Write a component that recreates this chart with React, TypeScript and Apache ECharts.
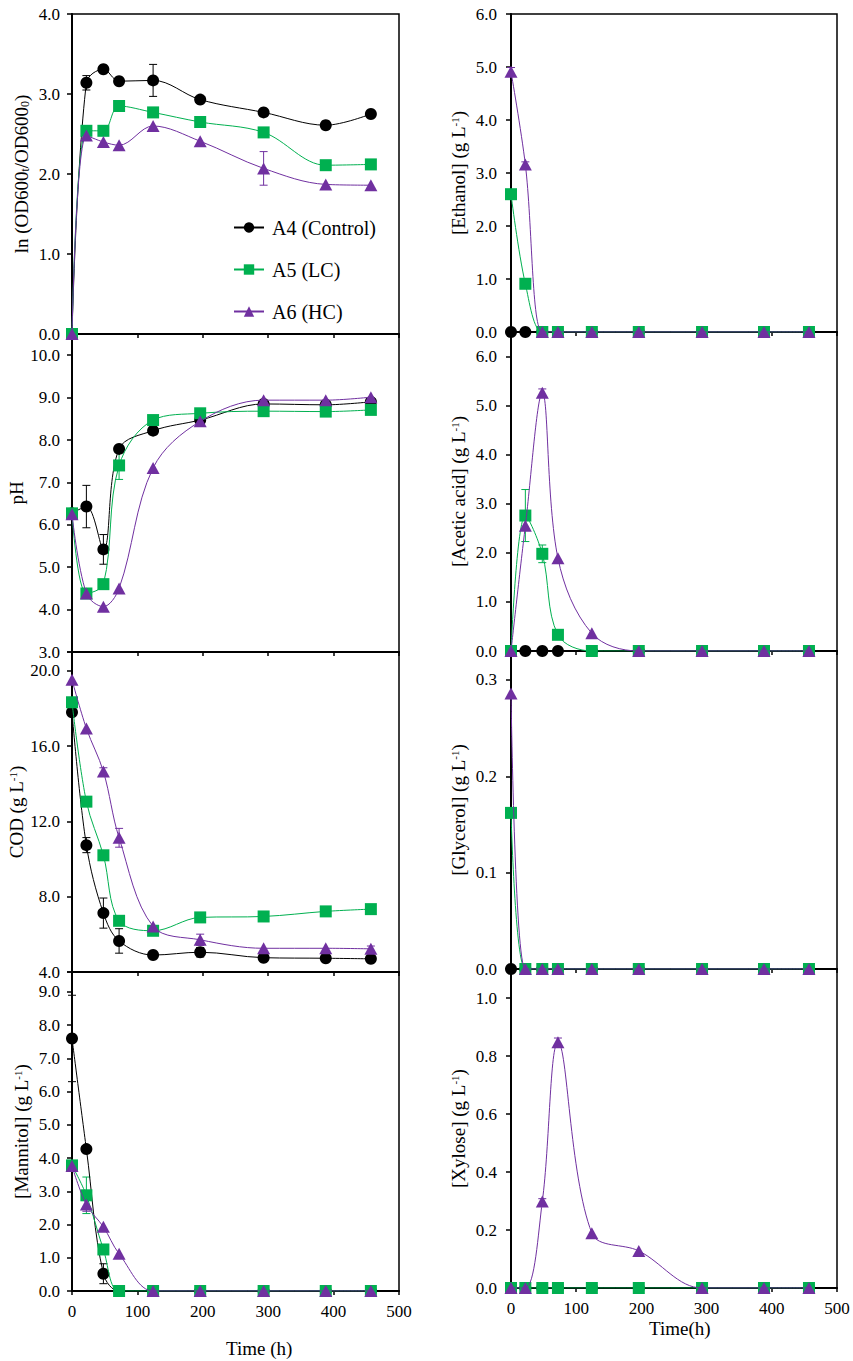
import React, { useEffect, useRef } from 'react';
import * as echarts from 'echarts';

// ---------- data ----------
const times = [0, 22, 48, 72, 124, 196, 293, 388, 457];
const seriesNames = ['A4 (Control)', 'A5 (LC)', 'A6 (HC)'];
const zeros = [0, 0, 0, 0, 0, 0, 0, 0, 0];

// ln(OD600t/OD600o)
const lnA4 = [0, 3.14, 3.31, 3.16, 3.17, 2.93, 2.77, 2.61, 2.75];
const lnA5 = [0, 2.54, 2.54, 2.85, 2.77, 2.65, 2.52, 2.11, 2.12];
const lnA6 = [0, 2.48, 2.4, 2.36, 2.6, 2.41, 2.07, 1.87, 1.86];
const lnSdA4 = [0, 0.09, 0, 0, 0.2, 0, 0, 0.05, 0];
const lnSdA6 = [0, 0, 0, 0, 0, 0, 0.21, 0, 0];

// pH
const phA4 = [6.27, 6.43, 5.42, 7.79, 8.22, 8.47, 8.85, 8.83, 8.9];
const phA5 = [6.27, 4.38, 4.6, 7.4, 8.47, 8.63, 8.68, 8.67, 8.71];
const phA6 = [6.25, 4.38, 4.07, 4.5, 7.34, 8.44, 8.94, 8.94, 9.01];
const phSdA4 = [0, 0.5, 0.35, 0, 0.08, 0, 0, 0, 0];
const phSdA5 = [0, 0, 0, 0.33, 0, 0, 0, 0, 0];

// COD
const codA4 = [17.8, 10.74, 7.13, 5.65, 4.9, 5.05, 4.76, 4.73, 4.7];
const codA5 = [18.33, 13.05, 10.2, 6.72, 6.19, 6.9, 6.95, 7.22, 7.34];
const codA6 = [19.52, 16.94, 14.65, 11.13, 6.42, 5.71, 5.26, 5.26, 5.23];
const codSdA4 = [0, 0.4, 0.8, 0.65, 0, 0.25, 0, 0, 0];
const codSdA6 = [0, 0, 0.2, 0.5, 0, 0.3, 0, 0, 0.15];

// Mannitol
const manA4 = [7.6, 4.27, 0.52, 0, 0, 0, 0, 0, 0];
const manA5 = [3.78, 2.88, 1.25, 0, 0, 0, 0, 0, 0];
const manA6 = [3.76, 2.6, 1.93, 1.12, 0, 0, 0, 0, 0];
const manSdA4 = [1.3, 0, 0.3, 0, 0, 0, 0, 0, 0];
const manSdA5 = [0, 0.55, 0, 0, 0, 0, 0, 0, 0];
const manSdA6 = [0, 0.2, 0, 0, 0, 0, 0, 0, 0];

// Ethanol
const ethA4 = [0, 0, 0, 0, 0, 0, 0, 0, 0];
const ethA5 = [2.6, 0.91, 0, 0, 0, 0, 0, 0, 0];
const ethA6 = [4.91, 3.16, 0, 0, 0, 0, 0, 0, 0];
const ethSdA6 = [0.08, 0.05, 0, 0, 0, 0, 0, 0, 0];

// Acetic acid
const aceA4 = [0, 0, 0, 0, 0, 0, 0, 0, 0];
const aceA5 = [0, 2.76, 1.98, 0.33, 0, 0, 0, 0, 0];
const aceA6 = [0, 2.55, 5.26, 1.89, 0.36, 0, 0, 0, 0];
const aceSdA5 = [0, 0.53, 0.18, 0.05, 0, 0, 0, 0, 0];
const aceSdA6 = [0, 0, 0.08, 0, 0, 0, 0, 0, 0];

// Glycerol
const glyA4 = [0, 0, 0, 0, 0, 0, 0, 0, 0];
const glyA5 = [0.162, 0, 0, 0, 0, 0, 0, 0, 0];
const glyA6 = [0.286, 0, 0, 0, 0, 0, 0, 0, 0];

// Xylose
const xylA4 = [0, 0, 0, 0, 0, 0, 0, 0, 0];
const xylA5 = [0, 0, 0, 0, 0, 0, 0, 0, 0];
const xylA6 = [0, 0, 0.298, 0.847, 0.189, 0.128, 0, 0, 0];
const xylSdA6 = [0, 0, 0.01, 0.015, 0, 0, 0, 0, 0];

// ---------- style ----------
const FONT = 'Liberation Serif';
const colors = ['#000000', '#00B050', '#7030A0'];
const symbols = ['circle', 'rect', 'triangle'];
const symbolSizes: any[] = [12, 12, [13, 12]];

const rich = {
  a: { fontFamily: FONT, fontSize: 19, color: '#000' },
  sup: { fontFamily: FONT, fontSize: 11, color: '#000', verticalAlign: 'top' },
  sub: { fontFamily: FONT, fontSize: 12, color: '#000', verticalAlign: 'bottom' },
};

const gl = '{a|(g L}{sup|-1}{a|)}';

const panels = [
  {
    box: { left: 72, top: 14, width: 327, height: 320 }, min: 0, max: 4, interval: 1,
    name: '{a|ln (OD600}{sub|t}{a|/OD600}{sub|0}{a|)}', gap: 41,
    data: [lnA4, lnA5, lnA6], sd: [lnSdA4, zeros, lnSdA6], bottom: false,
  },
  {
    box: { left: 72, top: 334, width: 327, height: 318 }, min: 3, max: 10.5, interval: 1,
    name: '{a|pH}', gap: 41,
    data: [phA4, phA5, phA6], sd: [phSdA4, phSdA5, zeros], bottom: false,
  },
  {
    box: { left: 72, top: 652, width: 327, height: 320 }, min: 4, max: 21, interval: 4,
    name: '{a|COD }' + gl, gap: 41,
    data: [codA4, codA5, codA6], sd: [codSdA4, zeros, codSdA6], bottom: false,
  },
  {
    box: { left: 72, top: 972, width: 327, height: 319 }, min: 0, max: 9.6, interval: 1,
    name: '{a|[Mannitol] }' + gl, gap: 41,
    data: [manA4, manA5, manA6], sd: [manSdA4, manSdA5, manSdA6], bottom: true,
  },
  {
    box: { left: 511, top: 14, width: 326, height: 318 }, min: 0, max: 6, interval: 1,
    name: '{a|[Ethanol] }' + gl, gap: 43,
    data: [ethA4, ethA5, ethA6], sd: [zeros, zeros, ethSdA6], bottom: false,
  },
  {
    box: { left: 511, top: 332, width: 326, height: 319 }, min: 0, max: 6.5, interval: 1,
    name: '{a|[Acetic acid] }' + gl, gap: 43,
    data: [aceA4, aceA5, aceA6], sd: [zeros, aceSdA5, aceSdA6], bottom: false,
  },
  {
    box: { left: 511, top: 651, width: 326, height: 318 }, min: 0, max: 0.33, interval: 0.1,
    name: '{a|[Glycerol] }' + gl, gap: 43,
    data: [glyA4, glyA5, glyA6], sd: [zeros, zeros, zeros], bottom: false,
  },
  {
    box: { left: 511, top: 969, width: 326, height: 319 }, min: 0, max: 1.1, interval: 0.2,
    name: '{a|[Xylose] }' + gl, gap: 43,
    data: [xylA4, xylA5, xylA6], sd: [zeros, zeros, xylSdA6], bottom: true,
  },
];

const fmt = (interval: number) => (v: number) => {
  const k = v / interval;
  return Math.abs(k - Math.round(k)) < 1e-6 ? v.toFixed(1) : '';
};

function buildOption() {
  const grid: any[] = [];
  const xAxis: any[] = [];
  const yAxis: any[] = [];
  const series: any[] = [];

  panels.forEach((p, i) => {
    grid.push({
      ...p.box,
      show: true,
      borderColor: '#000',
      borderWidth: 1.5,
      containLabel: false,
    });
    xAxis.push({
      type: 'value',
      gridIndex: i,
      min: 0,
      max: 500,
      interval: 100,
      splitLine: { show: false },
      axisLine: { show: true, onZero: false, lineStyle: { color: '#000', width: 2 } },
      axisTick: { show: true, inside: false, length: 4, lineStyle: { color: '#000', width: 1.5 } },
      axisLabel: {
        show: p.bottom,
        fontFamily: FONT,
        fontSize: 17,
        color: '#000',
        margin: 12,
      },
    });
    yAxis.push({
      type: 'value',
      gridIndex: i,
      min: p.min,
      max: p.max,
      interval: p.interval,
      splitLine: { show: false },
      axisLine: { show: true, onZero: false, lineStyle: { color: '#000', width: 2 } },
      axisTick: { show: true, inside: false, length: 5, lineStyle: { color: '#000', width: 1.5 } },
      axisLabel: {
        fontFamily: FONT,
        fontSize: 17,
        color: '#000',
        margin: i < 4 ? 12 : 14,
        formatter: fmt(p.interval),
      },
      name: p.name,
      nameLocation: 'middle',
      nameRotate: 90,
      nameGap: p.gap,
      nameTextStyle: { fontFamily: FONT, fontSize: 19, color: '#000', rich },
    });

    // error bars
    p.data.forEach((vals, k) => {
      const sd = p.sd[k];
      const errData = times
        .map((t, j) => [t, vals[j] - sd[j], vals[j] + sd[j], sd[j]])
        .filter((d) => d[3] > 0);
      if (errData.length) {
        const col = colors[k];
        series.push({
          type: 'custom',
          name: 'err-' + i + '-' + k,
          xAxisIndex: i,
          yAxisIndex: i,
          z: 2,
          silent: true,
          clip: false,
          data: errData,
          encode: { x: 0, y: [1, 2] },
          renderItem: (params: any, api: any) => {
            const x = api.value(0);
            const lo = api.value(1);
            const hi = api.value(2);
            const p1 = api.coord([x, hi]);
            const p2 = api.coord([x, lo]);
            const w = 4;
            const st = { stroke: col, lineWidth: 1 };
            return {
              type: 'group',
              children: [
                { type: 'line', shape: { x1: p1[0], y1: p1[1], x2: p2[0], y2: p2[1] }, style: st },
                { type: 'line', shape: { x1: p1[0] - w, y1: p1[1], x2: p1[0] + w, y2: p1[1] }, style: st },
                { type: 'line', shape: { x1: p2[0] - w, y1: p2[1], x2: p2[0] + w, y2: p2[1] }, style: st },
              ],
            };
          },
        });
      }
    });

    p.data.forEach((vals, k) => {
      series.push({
        type: 'line',
        name: seriesNames[k],
        xAxisIndex: i,
        yAxisIndex: i,
        data: times.map((t, j) => [t, vals[j]]),
        symbol: symbols[k],
        symbolSize: symbolSizes[k],
        showAllSymbol: true,
        smooth: 0.35,
        clip: true,
        z: 3 + k,
        lineStyle: { color: colors[k], width: 1 },
        itemStyle: { color: colors[k], opacity: 1 },
        emphasis: { disabled: true },
      });
    });
  });

  return {
    animation: false,
    backgroundColor: '#ffffff',
    textStyle: { fontFamily: FONT },
    grid,
    xAxis,
    yAxis,
    series,
    legend: {
      data: seriesNames,
      orient: 'vertical',
      left: 228,
      top: 212,
      itemWidth: 30,
      itemHeight: 13,
      itemGap: 21,
      selectedMode: false,
      textStyle: { fontFamily: FONT, fontSize: 20, color: '#000', lineHeight: 21, padding: [0, 0, 0, 3] },
    },
    graphic: [
      {
        type: 'text',
        left: 226,
        top: 1339,
        style: { text: 'Time (h)', fontFamily: FONT, fontSize: 19, fill: '#000' },
      },
      {
        type: 'text',
        left: 649,
        top: 1319,
        style: { text: 'Time(h)', fontFamily: FONT, fontSize: 19, fill: '#000' },
      },
    ],
  };
}

export default function App() {
  const ref = useRef<HTMLDivElement>(null);
  useEffect(() => {
    if (!ref.current) return;
    const chart = echarts.init(ref.current, undefined, { renderer: 'svg' });
    chart.setOption(buildOption() as any);
    return () => chart.dispose();
  }, []);
  return (
    <div
      ref={ref}
      style={{ position: 'absolute', left: 0, top: 0, width: 853, height: 1361, background: '#fff' }}
    />
  );
}
